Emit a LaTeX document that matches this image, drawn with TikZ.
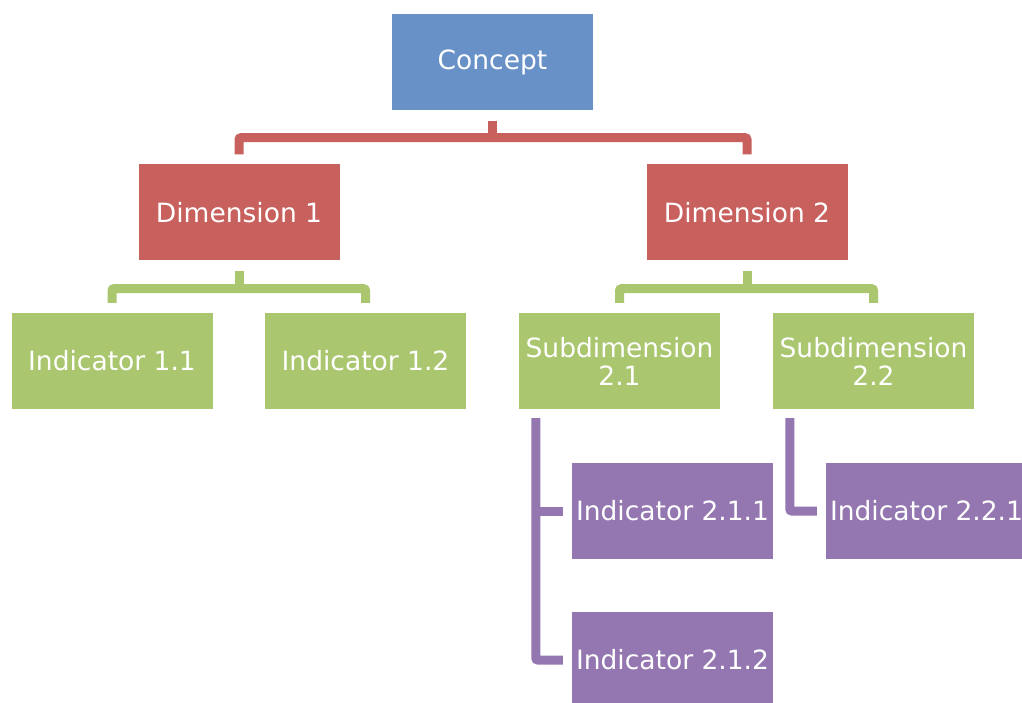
\documentclass[tikz,border=0pt]{standalone}
\usepackage{fontspec}
\setmainfont{DejaVu Sans}
\usetikzlibrary{calc}
\definecolor{cblue}{HTML}{6791C7}
\definecolor{cred}{HTML}{C8615E}
\definecolor{cgreen}{HTML}{AAC66E}
\definecolor{cpurple}{HTML}{9477B0}
\tikzset{
  box/.style={minimum width=201pt, minimum height=96pt, inner sep=0pt,
    text=white, align=center, font=\fontsize{26.5}{28}\selectfont},
  bluebox/.style={box, fill=cblue},
  redbox/.style={box, fill=cred},
  greenbox/.style={box, fill=cgreen},
  purplebox/.style={box, fill=cpurple},
  link/.style={line width=9pt, rounded corners=2pt},
}
\begin{document}
\begin{tikzpicture}[x=1pt, y=1pt]
\clip (0,0) rectangle (1022,702);
\fill[white] (0,0) rectangle (1022,702);

% boxes
\node[bluebox]   (concept) at (492.5,639.5) {\raisebox{-3pt}{Concept}};
\node[redbox]    (dim1)    at (239,489.5)   {Dimension 1};
\node[redbox]    (dim2)    at (747,489.5)   {Dimension 2};
\node[greenbox]  (ind11)   at (112,341)     {Indicator 1.1};
\node[greenbox]  (ind12)   at (365.5,341)   {Indicator 1.2};
\node[greenbox]  (sub21)   at (619.5,341)   {Subdimension\\2.1};
\node[greenbox]  (sub22)   at (873.5,341)   {Subdimension\\2.2};
\node[purplebox] (ind211)  at (672.5,191)   {Indicator 2.1.1};
\node[purplebox] (ind212)  at (672.5,42)    {Indicator 2.1.2};
\node[purplebox] (ind221)  at (926.5,191)   {Indicator 2.2.1};

% concept -> dimensions
\coordinate (rbar) at ($(concept.south)+(0,-27)$);
\draw[link, cred] ([yshift=-10pt]concept.south) -- (rbar);
\draw[link, cred] ([yshift=10pt]dim1.north) |- (rbar) -| ([yshift=10pt]dim2.north);

% dimension 1 -> indicators
\coordinate (g1bar) at ($(dim1.south)+(0,-28)$);
\draw[link, cgreen] ([yshift=-10pt]dim1.south) -- (g1bar);
\draw[link, cgreen] ([yshift=10pt]ind11.north) |- (g1bar) -| ([yshift=10pt]ind12.north);

% dimension 2 -> subdimensions
\coordinate (g2bar) at ($(dim2.south)+(0,-28)$);
\draw[link, cgreen] ([yshift=-10pt]dim2.south) -- (g2bar);
\draw[link, cgreen] ([yshift=10pt]sub21.north) |- (g2bar) -| ([yshift=10pt]sub22.north);

% subdimension 2.1 -> indicators
\draw[link, cpurple] ([xshift=17pt,yshift=-9pt]sub21.south west) |- ([xshift=-9pt]ind212.west);
\draw[link, cpurple] ([xshift=-9pt]ind211.west) -- ++(-28pt,0);

% subdimension 2.2 -> indicator
\draw[link, cpurple] ([xshift=17pt,yshift=-9pt]sub22.south west) |- ([xshift=-9pt]ind221.west);
\end{tikzpicture}
\end{document}
